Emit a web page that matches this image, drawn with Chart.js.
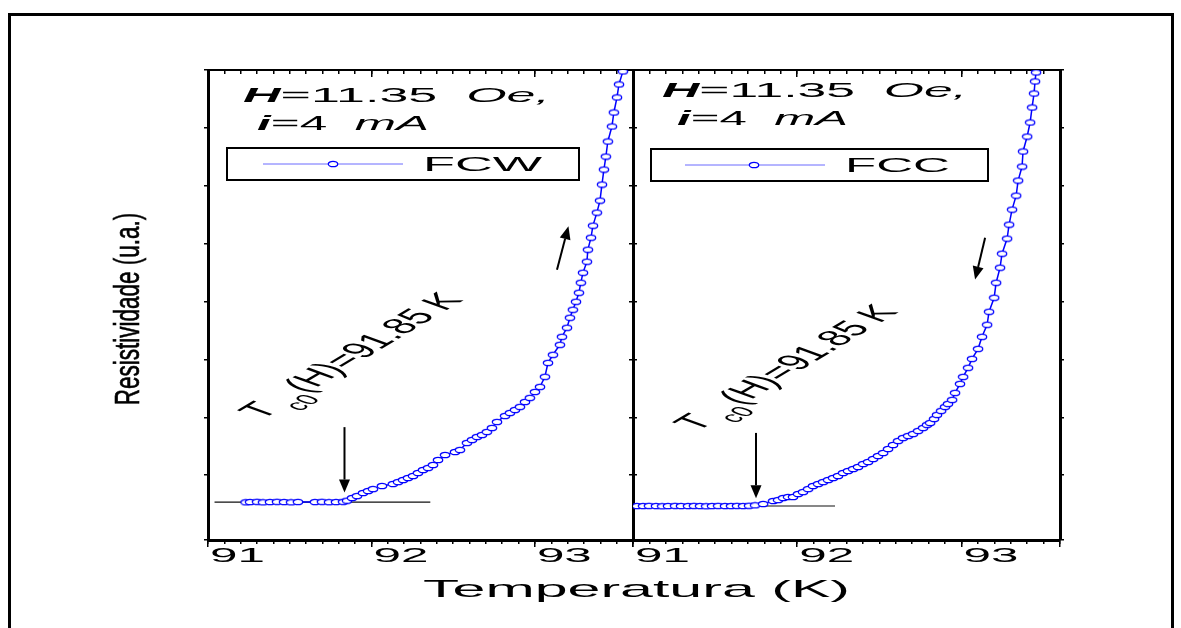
<!DOCTYPE html>
<html>
<head>
<meta charset="utf-8">
<script src="https://cdn.jsdelivr.net/npm/chart.js@4.4.0/dist/chart.umd.min.js"></script>
<style>
  html, body { margin: 0; padding: 0; background: #fff; }
  #wrap { position: relative; width: 1181px; height: 628px; overflow: hidden; }
  #frame { position: absolute; left: 8px; top: 13px; width: 1166px; height: 700px;
           border: 3px solid #000; border-bottom: none; box-sizing: border-box; }
  canvas { position: absolute; left: 0; top: 0; }
</style>
</head>
<body>
<div id="wrap">
  <div id="frame"></div>
  <canvas id="fcw" width="1181" height="628"></canvas>
  <canvas id="fcc" width="1181" height="628"></canvas>
</div>
<script>
const FONT = '"Liberation Sans", Arial, sans-serif';

// temperature axis labels (K)
const tempTicks = [91, 92, 93];

// field-cooled warming
const fcwTemp = [91.230, 91.257, 91.300, 91.336, 91.379, 91.422, 91.465, 91.508, 91.550, 91.654, 91.697,
  91.740, 91.783, 91.826, 91.850, 91.881, 91.911, 91.948, 91.979, 92.009, 92.064,
  92.131, 92.162, 92.193, 92.223, 92.254, 92.284, 92.315, 92.346, 92.376, 92.407,
  92.450, 92.511, 92.541, 92.584, 92.615, 92.645, 92.676, 92.706, 92.737, 92.768,
  92.817, 92.847, 92.878, 92.908, 92.939, 92.969, 93.000, 93.031, 93.061, 93.080,
  93.110, 93.153, 93.165, 93.196, 93.214, 93.232, 93.251, 93.269, 93.281, 93.294,
  93.318, 93.324, 93.343, 93.355, 93.379, 93.398, 93.410, 93.422, 93.434, 93.446,
  93.471, 93.483, 93.502, 93.514, 93.538, 93.557];
const fcwRes = [0.532, 0.536, 0.540, 0.532, 0.536, 0.540, 0.536, 0.532, 0.538, 0.536, 0.540,
  0.534, 0.536, 0.540, 0.560, 0.606, 0.640, 0.692, 0.727, 0.761, 0.813,
  0.848, 0.882, 0.917, 0.952, 0.986, 1.038, 1.090, 1.125, 1.176, 1.263,
  1.349, 1.401, 1.436, 1.557, 1.609, 1.661, 1.696, 1.747, 1.817, 1.920,
  2.024, 2.076, 2.128, 2.180, 2.266, 2.336, 2.439, 2.526, 2.700, 2.941,
  3.080, 3.253, 3.391, 3.547, 3.720, 3.858, 3.997, 4.152, 4.325, 4.498,
  4.689, 4.896, 5.104, 5.311, 5.536, 5.744, 6.021, 6.280, 6.505, 6.765,
  7.024, 7.266, 7.526, 7.751, 7.976, 8.220];

// field-cooled cooling
const fccTemp = [91.024, 91.061, 91.097, 91.140, 91.177, 91.213, 91.256, 91.292, 91.335, 91.371,
  91.408, 91.445, 91.481, 91.518, 91.560, 91.597, 91.633, 91.670, 91.706, 91.743,
  91.792, 91.853, 91.883, 91.914, 91.944, 91.974, 92.005, 92.035, 92.066, 92.096,
  92.127, 92.157, 92.188, 92.218, 92.248, 92.279, 92.309, 92.340, 92.370, 92.401,
  92.431, 92.462, 92.492, 92.523, 92.553, 92.583, 92.614, 92.644, 92.675, 92.705,
  92.736, 92.766, 92.790, 92.809, 92.833, 92.851, 92.876, 92.900, 92.918, 92.943,
  92.961, 92.991, 93.010, 93.040, 93.064, 93.101, 93.125, 93.156, 93.168, 93.199,
  93.211, 93.235, 93.247, 93.278, 93.290, 93.308, 93.333, 93.345, 93.369, 93.375,
  93.400, 93.418, 93.430, 93.442, 93.448, 93.454];
const fccRes = [0.467, 0.467, 0.470, 0.467, 0.464, 0.467, 0.470, 0.467, 0.467, 0.470,
  0.467, 0.464, 0.467, 0.470, 0.467, 0.467, 0.470, 0.467, 0.472, 0.480,
  0.502, 0.554, 0.571, 0.606, 0.623, 0.623, 0.675, 0.709, 0.761, 0.813,
  0.848, 0.882, 0.917, 0.952, 0.986, 1.038, 1.073, 1.107, 1.142, 1.194,
  1.228, 1.280, 1.332, 1.384, 1.453, 1.522, 1.592, 1.644, 1.678, 1.713,
  1.765, 1.817, 1.869, 1.903, 1.972, 2.042, 2.111, 2.180, 2.232, 2.301,
  2.422, 2.578, 2.699, 2.855, 3.010, 3.183, 3.391, 3.599, 3.824, 4.066,
  4.325, 4.585, 4.827, 5.087, 5.329, 5.588, 5.830, 6.090, 6.332, 6.592,
  6.851, 7.093, 7.353, 7.595, 7.803, 7.958];

// normal-state baselines used to locate Tc0
const fcwBaseTemp = [91.04, 92.36];
const fcwBaseRes = [0.536, 0.536];
const fccBaseTemp = [91.0, 92.23];
const fccBaseRes = [0.467, 0.467];

// arrows as [tailT, tailR, tipT, tipR]
const fcwArrows = [[91.835, 1.83, 91.835, 0.70], [93.135, 4.55, 93.205, 5.30]];
const fccArrows = [[91.749, 1.73, 91.749, 0.60], [93.144, 5.10, 93.083, 4.38]];

// open ellipse marker
function makeMarker() {
  const c = document.createElement('canvas');
  c.width = 12; c.height = 8;
  const g = c.getContext('2d');
  g.beginPath();
  g.ellipse(6, 4, 4.7, 2.7, 0, 0, Math.PI * 2);
  g.fillStyle = '#fff';
  g.fill();
  g.lineWidth = 1.3;
  g.strokeStyle = '#0000ff';
  g.stroke();
  return c;
}
const marker = makeMarker();

function partsWidth(ctx, parts) {
  let w = 0;
  for (const p of parts) { ctx.font = p.font; w += ctx.measureText(p.text).width + (p.gap || 0); }
  return w;
}

// draw a run of text pieces, squeezed/stretched horizontally by sx
function drawParts(ctx, parts, x, y, sx, rot) {
  ctx.save();
  ctx.translate(x, y);
  ctx.scale(sx, 1);
  if (rot) ctx.rotate(rot);
  ctx.fillStyle = '#000';
  ctx.textAlign = 'left';
  ctx.textBaseline = 'alphabetic';
  let cx = 0;
  for (const p of parts) {
    ctx.font = p.font;
    ctx.fillText(p.text, cx, p.dy || 0);
    cx += ctx.measureText(p.text).width + (p.gap || 0);
  }
  ctx.restore();
}

function fitParts(ctx, parts, x0, x1, y) {
  const sx = (x1 - x0) / partsWidth(ctx, parts);
  drawParts(ctx, parts, x0, y, sx);
}

function arrow(ctx, x0, y0, x1, y1) {
  const a = Math.atan2(y1 - y0, x1 - x0);
  const hl = 13, hw = 5.5;
  ctx.save();
  ctx.strokeStyle = '#000';
  ctx.fillStyle = '#000';
  ctx.lineWidth = 2;
  ctx.beginPath();
  ctx.moveTo(x0, y0);
  ctx.lineTo(x1 - hl * Math.cos(a), y1 - hl * Math.sin(a));
  ctx.stroke();
  ctx.beginPath();
  ctx.moveTo(x1, y1);
  ctx.lineTo(x1 - hl * Math.cos(a) + hw * Math.sin(a), y1 - hl * Math.sin(a) - hw * Math.cos(a));
  ctx.lineTo(x1 - hl * Math.cos(a) - hw * Math.sin(a), y1 - hl * Math.sin(a) + hw * Math.cos(a));
  ctx.closePath();
  ctx.fill();
  ctx.restore();
}

const f = (size, style) => (style ? style + ' ' : '') + size + 'px ' + FONT;

const panels = [
  {
    id: 'fcw', label: 'FCW', temp: fcwTemp, res: fcwRes,
    baseTemp: fcwBaseTemp, baseRes: fcwBaseRes, arrows: fcwArrows,
    left: 208, right: 633,
    head: { x0: 243, x1: 550, y: 102 }, sub: { x0: 257, x1: 429, y: 130 },
    box: { x: 227, y: 148, w: 352, h: 32, lx0: 263, lx1: 403, ly: 164, mx: 333, tx0: 423, tx1: 542, ty: 171 },
    tc: { x: 262, y: 420 },
    titles: true
  },
  {
    id: 'fcc', label: 'FCC', temp: fccTemp, res: fccRes,
    baseTemp: fccBaseTemp, baseRes: fccBaseRes, arrows: fccArrows,
    left: 633, right: 1060,
    head: { x0: 662, x1: 967, y: 97 }, sub: { x0: 677, x1: 848, y: 125 },
    box: { x: 651, y: 149, w: 337, h: 32, lx0: 685, lx1: 825, ly: 165, mx: 754, tx0: 845, tx1: 950, ty: 172 },
    tc: { x: 697, y: 432 },
    titles: false
  }
];

const notes = {
  id: 'notes',
  afterDraw(chart, args, opts) {
    const p = opts.panel;
    const ctx = chart.ctx;
    const xs = chart.scales.x, ys = chart.scales.y;

    // field and current
    fitParts(ctx, [
      { text: 'H', font: f(20, 'italic bold') },
      { text: '=11.35  ', font: f(20) },
      { text: 'Oe,', font: f(20, 'italic') }
    ], p.head.x0, p.head.x1, p.head.y);
    fitParts(ctx, [
      { text: 'i', font: f(20, 'italic bold') },
      { text: '=4  ', font: f(20) },
      { text: 'mA', font: f(20, 'italic') }
    ], p.sub.x0, p.sub.x1, p.sub.y);

    // legend box
    const b = p.box;
    ctx.save();
    ctx.lineWidth = 2;
    ctx.strokeStyle = '#000';
    ctx.strokeRect(b.x, b.y, b.w, b.h);
    ctx.strokeStyle = '#6b6bff';
    ctx.lineWidth = 1;
    ctx.beginPath();
    ctx.moveTo(b.lx0, b.ly);
    ctx.lineTo(b.lx1, b.ly);
    ctx.stroke();
    ctx.drawImage(marker, b.mx - 6, b.ly - 4);
    ctx.restore();
    fitParts(ctx, [{ text: chart.data.datasets[0].label, font: f(20) }], b.tx0, b.tx1, b.ty);

    // Tc0 annotation
    drawParts(ctx, [
      { text: 'T', font: f(22), gap: 4 },
      { text: 'c0', font: f(15), dy: 9 },
      { text: '(H)=91.85 K', font: f(22) }
    ], p.tc.x, p.tc.y, 2.15, -52 * Math.PI / 180);

    // arrows
    for (const a of p.arrows) {
      arrow(ctx, xs.getPixelForValue(a[0]), ys.getPixelForValue(a[1]),
        xs.getPixelForValue(a[2]), ys.getPixelForValue(a[3]));
    }

    // temperature tick labels
    for (const v of tempTicks) {
      drawParts(ctx, [{ text: String(v), font: f(21) }], xs.getPixelForValue(v) + 2, 562, 2.35);
    }

    if (p.titles) {
      fitParts(ctx, [{ text: 'Temperatura (K)', font: f(24) }], 423, 850, 597);
      ctx.save();
      ctx.translate(139, 309);
      ctx.scale(1.55, 1);
      ctx.rotate(-Math.PI / 2);
      ctx.font = f(22.5);
      ctx.fillStyle = '#000';
      ctx.strokeStyle = '#000';
      ctx.lineWidth = 0.4;
      ctx.textAlign = 'center';
      ctx.fillText('Resistividade (u.a.)', 0, 0);
      ctx.strokeText('Resistividade (u.a.)', 0, 0);
      ctx.restore();
    }
  }
};

function tickAxis(position, step, len, borderW) {
  const vertical = position === 'left' || position === 'right';
  return {
    type: 'linear', position,
    min: vertical ? -0.12 : 91,
    max: vertical ? 8 : 93.6,
    afterFit: s => { if (s.isHorizontal()) s.height = 0; else s.width = 0; },
    ticks: { display: false, stepSize: step },
    grid: { drawOnChartArea: false, drawTicks: true, tickLength: len, color: '#000', lineWidth: 1.5 },
    border: { display: borderW > 0, color: '#000', width: borderW }
  };
}

for (const p of panels) {
  new Chart(document.getElementById(p.id), {
    type: 'line',
    data: {
      datasets: [
        {
          label: p.label,
          data: p.temp.map((t, i) => ({ x: t, y: p.res[i] })),
          borderColor: '#0000ff', borderWidth: 1.5,
          pointStyle: marker, pointRadius: 4,
          tension: 0
        },
        {
          label: 'base',
          data: p.baseTemp.map((t, i) => ({ x: t, y: p.baseRes[i] })),
          borderColor: '#111', borderWidth: 1.2, pointRadius: 0
        }
      ]
    },
    options: {
      responsive: false, animation: false,
      layout: { padding: { left: p.left, right: 1181 - p.right, top: 70, bottom: 628 - 540 } },
      plugins: { legend: { display: false }, tooltip: { enabled: false }, notes: { panel: p } },
      scales: {
        x: tickAxis('bottom', 1, 7, 3),
        xMinor: tickAxis('bottom', 0.1, 4, 0),
        xTop: tickAxis('top', 1, -7, 2),
        xTopMinor: tickAxis('top', 0.1, -4, 0),
        y: tickAxis('left', 1, 4, 3),
        yRight: tickAxis('right', 1, 4, 3)
      }
    },
    plugins: [notes]
  });
}
</script>
</body>
</html>
